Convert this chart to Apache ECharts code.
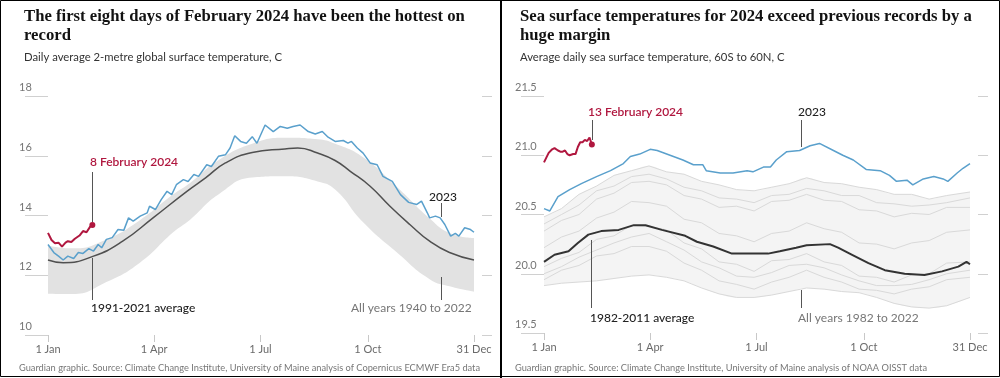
<!DOCTYPE html>
<html><head><meta charset="utf-8">
<script src="https://cdn.jsdelivr.net/npm/echarts@6/dist/echarts.min.js"></script>
<style>html,body{margin:0;padding:0;background:#fff}#c{width:1000px;height:378px}</style>
</head><body><div id="c"></div>
<script>
// ---------- axis ticks ----------
const tickDays = [0, 91, 182, 274, 365];
const tickLabels = ['1 Jan', '1 Apr', '1 Jul', '1 Oct', '31 Dec'];

// ---------- Left chart: ERA5 global air temperature ----------
const airBandDays = [0, 21, 50, 79, 107, 122, 146, 175, 203, 231, 246, 270, 299, 327, 345, 365];
const airBandLow  = [11.38, 11.37, 11.77, 12.43, 13.43, 13.87, 14.70, 15.27, 15.31, 15.14, 14.87, 13.77, 12.76, 11.87, 11.62, 11.45];
const airBandHigh = [13.00, 12.90, 13.20, 13.85, 14.70, 15.10, 15.85, 16.40, 16.60, 16.55, 16.40, 15.95, 14.95, 13.90, 13.40, 13.25];

const airAvgDays = [0, 13, 39, 64, 90, 119, 135, 152, 175, 203, 214, 231, 246, 259, 276, 293, 310, 327, 344, 365];
const airAvg     = [12.51, 12.42, 12.64, 13.14, 13.92, 14.81, 15.26, 15.76, 16.11, 16.23, 16.26, 16.09, 15.84, 15.48, 14.98, 14.31, 13.70, 13.14, 12.76, 12.51];

const air2023Days = [0, 5, 9, 13, 17, 22, 26, 30, 35, 39, 43, 46, 50, 55, 60, 65, 69, 73, 79, 85, 87, 92, 97, 102, 106, 110, 116, 120, 125, 129, 136, 140, 146, 152, 156, 160, 165, 170, 175, 179, 186, 193, 199, 205, 210, 216, 223, 229, 235, 240, 246, 253, 257, 260, 265, 270, 276, 282, 287, 295, 302, 309, 316, 320, 325, 327, 332, 336, 340, 345, 349, 352, 357, 362, 365];
const air2023     = [13.03, 12.76, 12.64, 12.51, 12.64, 12.56, 12.76, 12.73, 12.89, 12.81, 13.03, 12.92, 13.20, 13.26, 13.53, 13.51, 13.92, 13.81, 13.98, 14.09, 14.31, 14.20, 14.53, 14.81, 14.70, 15.03, 15.20, 15.14, 15.37, 15.31, 15.70, 15.64, 15.98, 16.03, 16.26, 16.67, 16.48, 16.42, 16.64, 16.42, 17.03, 16.81, 16.98, 16.92, 16.98, 17.03, 16.81, 16.73, 16.81, 16.62, 16.48, 16.51, 16.42, 16.48, 16.26, 16.09, 15.76, 15.70, 15.31, 15.14, 14.70, 14.44, 14.37, 14.48, 14.09, 13.92, 13.98, 13.92, 13.70, 13.31, 13.40, 13.31, 13.59, 13.53, 13.44];

const air2024Days = [0, 3, 6, 9, 12, 15, 17, 20, 23, 27, 30, 33, 36, 38];
const air2024     = [13.42, 13.18, 13.07, 13.09, 12.96, 13.09, 13.14, 13.11, 13.22, 13.33, 13.48, 13.44, 13.62, 13.68];

// ---------- Right chart: sea surface temperature ----------
const sstDays = [0, 15, 30, 45, 60, 75, 90, 105, 120, 135, 150, 165, 180, 195, 210, 225, 240, 255, 270, 285, 300, 315, 330, 345, 365];
const sstGrayTop    = [20.48, 20.55, 20.67, 20.74, 20.83, 20.87, 20.91, 20.86, 20.84, 20.78, 20.75, 20.71, 20.70, 20.73, 20.76, 20.81, 20.77, 20.76, 20.73, 20.71, 20.67, 20.67, 20.63, 20.66, 20.69];
const sstGrayE      = [20.42, 20.50, 20.58, 20.70, 20.74, 20.82, 20.84, 20.80, 20.73, 20.70, 20.64, 20.63, 20.60, 20.66, 20.67, 20.72, 20.70, 20.66, 20.66, 20.60, 20.59, 20.57, 20.58, 20.60, 20.64];
const sstGrayA      = [20.36, 20.45, 20.50, 20.63, 20.68, 20.77, 20.78, 20.75, 20.66, 20.63, 20.56, 20.57, 20.53, 20.61, 20.62, 20.67, 20.62, 20.61, 20.54, 20.53, 20.48, 20.51, 20.50, 20.56, 20.56];
const sstGrayB      = [20.22, 20.31, 20.36, 20.47, 20.52, 20.61, 20.60, 20.57, 20.46, 20.43, 20.34, 20.32, 20.27, 20.34, 20.36, 20.43, 20.38, 20.35, 20.26, 20.25, 20.21, 20.26, 20.28, 20.35, 20.37];
const sstGrayC      = [20.06, 20.13, 20.18, 20.29, 20.32, 20.41, 20.40, 20.37, 20.26, 20.21, 20.10, 20.08, 20.02, 20.11, 20.12, 20.17, 20.10, 20.07, 19.98, 19.97, 19.93, 19.99, 20.00, 20.09, 20.10];
const sstGrayF      = [20.00, 20.06, 20.14, 20.20, 20.26, 20.31, 20.34, 20.27, 20.20, 20.10, 20.05, 19.98, 19.97, 20.01, 20.07, 20.08, 20.05, 19.99, 19.94, 19.90, 19.90, 19.91, 19.95, 20.00, 20.03];
const sstGrayD      = [19.95, 20.03, 20.07, 20.15, 20.17, 20.23, 20.23, 20.19, 20.09, 20.03, 19.94, 19.91, 19.87, 19.93, 19.97, 20.03, 19.97, 19.93, 19.87, 19.86, 19.83, 19.87, 19.89, 19.95, 19.97];
const sstGrayBottom = [19.90, 19.92, 19.93, 19.94, 19.96, 19.98, 19.99, 19.97, 19.94, 19.88, 19.83, 19.80, 19.80, 19.82, 19.85, 19.88, 19.87, 19.85, 19.84, 19.80, 19.75, 19.72, 19.71, 19.73, 19.80];

const sstAvgDays = [0, 9, 21, 29, 38, 49, 64, 77, 87, 101, 121, 131, 145, 161, 174, 192, 202, 216, 225, 245, 252, 264, 278, 292, 309, 326, 341, 355, 362, 365];
const sstAvg     = [20.10, 20.16, 20.19, 20.26, 20.33, 20.36, 20.37, 20.41, 20.41, 20.37, 20.32, 20.27, 20.23, 20.17, 20.17, 20.17, 20.19, 20.22, 20.24, 20.25, 20.22, 20.16, 20.09, 20.03, 20.00, 19.99, 20.02, 20.06, 20.10, 20.08];

const sst2023Days = [0, 5, 12, 22, 32, 45, 57, 68, 74, 82, 91, 97, 108, 119, 128, 136, 139, 151, 162, 174, 179, 188, 194, 199, 208, 219, 228, 236, 248, 256, 265, 276, 288, 296, 302, 311, 316, 325, 334, 342, 346, 354, 359, 365];
const sst2023     = [20.55, 20.53, 20.65, 20.71, 20.76, 20.82, 20.87, 20.93, 20.99, 21.01, 21.05, 21.04, 21.00, 20.96, 20.92, 20.92, 20.87, 20.85, 20.85, 20.87, 20.86, 20.90, 20.90, 20.96, 21.03, 21.04, 21.08, 21.10, 21.04, 21.00, 20.96, 20.88, 20.87, 20.83, 20.78, 20.79, 20.75, 20.80, 20.82, 20.80, 20.78, 20.85, 20.89, 20.93];

const sst2024Days = [0, 2, 4, 7, 9, 12, 14, 16, 18, 20, 22, 25, 27, 29, 31, 33, 35, 37, 39, 41];
const sst2024     = [20.94, 20.98, 21.02, 21.05, 21.06, 21.04, 21.03, 21.03, 21.04, 21.01, 21.00, 21.01, 21.01, 21.07, 21.11, 21.11, 21.13, 21.12, 21.15, 21.09];

// ---------- helpers ----------
const zip = (d, v) => d.map((x, i) => [x, v[i]]);
const last = (d, v) => [[d[d.length - 1], v[v.length - 1]]];

const RED = '#b0173f', BLUE = '#5aa0cc', GRAY_TXT = '#767676';
const labelFont = 'Lato, "Liberation Sans", sans-serif';

function xAxisFor(gi) {
  return {
    type: 'value', gridIndex: gi, min: -5.141, max: 371.854,
    axisLine: { show: false }, splitLine: { show: false },
    axisTick: { show: true, length: 7, customValues: tickDays, lineStyle: { color: '#c8c8c8' } },
    axisLabel: {
      customValues: tickDays, margin: 9, color: '#6a6a6a', fontSize: 11, fontFamily: labelFont,
      formatter: v => tickLabels[tickDays.indexOf(Math.round(v))] || ''
    }
  };
}
function yAxesFor(gi, min, max, interval, digits) {
  return [{
    type: 'value', gridIndex: gi, min, max, interval, position: 'left',
    axisLine: { show: false }, splitLine: { show: false },
    axisTick: { show: true, length: 23, lineStyle: { color: '#d0d0d0' } },
    axisLabel: {
      align: 'left', verticalAlign: 'bottom', margin: 23, padding: [0, 0, 3, 0],
      color: GRAY_TXT, fontSize: 11, fontFamily: labelFont,
      formatter: v => v.toFixed(digits)
    }
  }, {
    type: 'value', gridIndex: gi, min, max, interval, position: 'right',
    axisLine: { show: false }, splitLine: { show: false },
    axisTick: { show: true, length: 10, lineStyle: { color: '#d0d0d0' } },
    axisLabel: { show: false }
  }];
}
function line(xi, yi, data, color, width, z, smooth) {
  return { type: 'line', xAxisIndex: xi, yAxisIndex: yi, data, symbol: 'none', smooth: !!smooth,
    lineStyle: { color, width }, z, silent: true, animation: false };
}
// band = upper area filled to axis start, then covered below the lower edge by white
function band(xi, yi, days, low, high, color) {
  return [
    { type: 'line', xAxisIndex: xi, yAxisIndex: yi, symbol: 'none', smooth: true,
      data: zip(days, high), lineStyle: { width: 0, opacity: 0 },
      areaStyle: { color, opacity: 1, origin: 'start' }, z: 1, silent: true, animation: false },
    { type: 'line', xAxisIndex: xi, yAxisIndex: yi, symbol: 'none', smooth: true,
      data: zip(days, low), lineStyle: { width: 0, opacity: 0 },
      areaStyle: { color: '#ffffff', opacity: 1, origin: 'start' }, z: 1, silent: true, animation: false }
  ];
}
function dot(xi, yi, data) {
  return { type: 'scatter', xAxisIndex: xi, yAxisIndex: yi, data, symbolSize: 6,
    itemStyle: { color: RED, opacity: 1 }, z: 10, silent: true, animation: false };
}

const titleFont = '"Liberation Serif", "DejaVu Serif", serif';
const subFont = 'Lato, "Liberation Sans", sans-serif';

function vline(x, y1, y2, color) {
  return { type: 'line', z: 100, shape: { x1: x, y1: y1, x2: x, y2: y2 }, style: { stroke: color || '#555', lineWidth: 1 }, silent: true };
}
function txt(x, y, text, color, weight, size) {
  return { type: 'text', z: 100, x, y, style: { text, fill: color, font: (weight || 'normal') + ' ' + (size || 12) + 'px ' + subFont, textVerticalAlign: 'middle' }, silent: true };
}

const grayLines = [sstGrayTop, sstGrayE, sstGrayA, sstGrayB, sstGrayC, sstGrayF, sstGrayD, sstGrayBottom];

const chart = echarts.init(document.getElementById('c'), null, { renderer: 'canvas' });
chart.setOption({
  animation: false,
  backgroundColor: '#fff',
  title: [
    { text: 'The first eight days of February 2024 have been the hottest on\nrecord', left: 19, top: 2,
      textStyle: { fontFamily: titleFont, fontWeight: 'bold', fontSize: 16.7, lineHeight: 19, color: '#121212' } },
    { text: 'Daily average 2-metre global surface temperature, C', left: 19, top: 47,
      textStyle: { fontFamily: subFont, fontWeight: 'normal', fontSize: 11.3, color: '#333' } },
    { text: 'Sea surface temperatures for 2024 exceed previous records by a\nhuge margin', left: 515, top: 2,
      textStyle: { fontFamily: titleFont, fontWeight: 'bold', fontSize: 16.7, lineHeight: 19, color: '#121212' } },
    { text: 'Average daily sea surface temperature, 60S to 60N, C', left: 515, top: 47,
      textStyle: { fontFamily: subFont, fontWeight: 'normal', fontSize: 11.3, color: '#333' } }
  ],
  grid: [
    { left: 42, top: 96, width: 440, height: 239 },
    { left: 538, top: 96, width: 440, height: 237 }
  ],
  xAxis: [xAxisFor(0), xAxisFor(1)],
  yAxis: [].concat(yAxesFor(0, 10, 18, 2, 0), yAxesFor(1, 19.5, 21.5, 0.5, 1)),
  series: [].concat(
    band(0, 0, airBandDays, airBandLow, airBandHigh, '#e2e2e2'),
    [
      line(0, 0, zip(airAvgDays, airAvg), '#505050', 1.5, 4, true),
      line(0, 0, zip(air2023Days, air2023), BLUE, 1.5, 5),
      line(0, 0, zip(air2024Days, air2024), RED, 2, 6),
      dot(0, 0, last(air2024Days, air2024))
    ],
    band(1, 2, sstDays, sstGrayBottom, sstGrayTop, '#f4f4f4'),
    grayLines.map(g => line(1, 2, zip(sstDays, g), '#d9d9d9', 1, 2)),
    [
      line(1, 2, zip(sstAvgDays, sstAvg), '#333333', 2, 4),
      line(1, 2, zip(sst2023Days, sst2023), BLUE, 1.5, 5),
      line(1, 2, zip(sst2024Days, sst2024), RED, 2, 6),
      dot(1, 2, last(sst2024Days, sst2024))
    ]
  ),
  graphic: [
    { type: 'rect', z: 100, shape: { x: 0.5, y: 0.5, width: 999, height: 376 }, style: { fill: null, stroke: '#000', lineWidth: 1 }, silent: true },
    { type: 'line', z: 100, shape: { x1: 501, y1: 0, x2: 501, y2: 378 }, style: { stroke: '#000', lineWidth: 2 }, silent: true },
    // left annotations
    txt(90, 162, '8 February 2024', RED, '600', 12),
    vline(92.5, 172, 222),
    txt(91, 308, '1991-2021 average', '#222', '500', 12),
    vline(92.5, 258, 300),
    txt(429, 197, '2023', '#222', '500', 12),
    vline(441.5, 203, 217),
    txt(351, 308, 'All years 1940 to 2022', GRAY_TXT, 'normal', 12),
    vline(441.5, 277, 300),
    txt(19, 368, 'Guardian graphic. Source: Climate Change Institute, University of Maine analysis of Copernicus ECMWF Era5 data', '#777', 'normal', 9.25),
    // right annotations
    txt(588, 112, '13 February 2024', RED, '600', 12),
    vline(592.5, 120, 140),
    txt(798, 112, '2023', '#222', '500', 12),
    vline(801.5, 120, 147),
    txt(590, 318, '1982-2011 average', '#222', '500', 12),
    vline(591.5, 240, 308),
    txt(798, 318, 'All years 1982 to 2022', GRAY_TXT, 'normal', 12),
    vline(801.5, 290, 308),
    txt(515, 368, 'Guardian graphic. Source: Climate Change Institute, University of Maine analysis of NOAA OISST data', '#777', 'normal', 9.25)
  ]
});
</script></body></html>
